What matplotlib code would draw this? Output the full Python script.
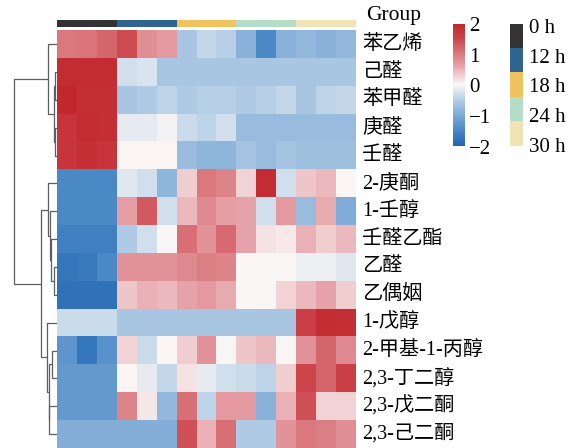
import matplotlib
matplotlib.use("Agg")
import matplotlib.pyplot as plt
from matplotlib.colors import LinearSegmentedColormap, ListedColormap
import numpy as np

plt.rcParams["font.family"] = ["Liberation Serif", "Noto Sans CJK SC"]
plt.rcParams["axes.unicode_minus"] = True

# compounds in dendrogram order
compounds = [
    "苯乙烯", "己醛", "苯甲醛", "庚醛", "壬醛",
    "2-庚酮", "1-壬醇", "壬醛乙酯", "乙醛", "乙偶姻",
    "1-戊醇", "2-甲基-1-丙醇", "2,3-丁二醇", "2,3-戊二酮", "2,3-己二酮",
]
groups = ["0 h", "12 h", "18 h", "24 h", "30 h"]
group_colors = ["#333333", "#2f6491", "#f0c35e", "#b5dcc6", "#f2e3b6"]
replicates = 3

# row z-scores, 3 samples per group
zscores = np.array([
    [1.0, 1.05, 1.2, 1.45, 0.8, 0.7, -0.6, -0.4, -0.5, -0.9, -1.5, -0.9, -0.8, -0.9, -0.8],
    [1.9, 1.9, 1.9, -0.3, -0.25, -0.6, -0.6, -0.6, -0.6, -0.6, -0.6, -0.6, -0.6, -0.6, -0.6],
    [2.0, 1.85, 1.85, -0.6, -0.55, -0.45, -0.55, -0.5, -0.5, -0.55, -0.5, -0.4, -0.6, -0.45, -0.4],
    [1.75, 1.9, 1.85, -0.15, -0.15, -0.05, -0.35, -0.45, -0.3, -0.75, -0.75, -0.75, -0.75, -0.75, -0.75],
    [1.75, 1.85, 1.75, 0.02, 0.02, 0.02, -0.75, -0.85, -0.85, -0.65, -0.75, -0.65, -0.7, -0.7, -0.7],
    [-1.5, -1.5, -1.5, -0.2, -0.3, -0.85, 0.3, 1.0, 0.9, 0.25, 1.9, -0.3, 0.35, 0.45, 0.02],
    [-1.5, -1.5, -1.5, 0.65, 1.3, -0.3, 0.45, 0.85, 0.65, 0.6, -0.3, 0.7, -0.75, 0.55, -1.0],
    [-1.6, -1.6, -1.6, -0.55, -0.3, -0.02, 1.1, 0.75, 1.15, 0.6, 0.15, 0.1, 0.5, 0.3, 0.45],
    [-1.75, -1.7, -1.5, 0.75, 0.75, 0.75, 0.85, 0.95, 0.9, 0.0, -0.02, 0.0, -0.1, -0.1, -0.2],
    [-1.8, -1.8, -1.8, 0.35, 0.5, 0.45, 0.6, 0.7, 0.55, 0.0, -0.03, 0.25, 0.45, 0.6, 0.3],
    [-0.35, -0.35, -0.35, -0.6, -0.6, -0.6, -0.6, -0.6, -0.6, -0.6, -0.6, -0.6, 1.6, 1.9, 1.85],
    [-1.3, -1.75, -1.35, 0.25, -0.35, 0.02, 0.3, 0.75, -0.03, 0.35, 0.45, -0.03, 0.75, 1.2, 0.85],
    [-1.25, -1.25, -1.25, 0.02, -0.15, -0.4, 0.15, -0.15, -0.3, -0.35, -0.45, 0.3, 1.5, 1.2, 1.6],
    [-1.25, -1.25, -1.25, 0.9, 0.12, -0.8, 1.1, -0.45, 0.7, 0.7, -0.9, 0.5, 1.4, 0.25, 0.25],
    [-0.95, -0.95, -0.95, -0.95, -0.95, -0.95, 1.4, 0.5, 1.1, -0.55, -0.55, 0.75, 1.0, 0.95, 0.8],
])

# row clustering: (left, right, height); ids >= 15 are earlier merges
merges = [
    (1, 2, 2.5), (3, 4, 2.5), (15, 16, 3.5), (0, 17, 9.3),
    (8, 9, 2.7), (7, 19, 6.0), (6, 20, 7.5), (5, 21, 9.3),
    (11, 12, 5.3), (13, 14, 8.0), (23, 24, 8.4), (10, 25, 10.3),
    (22, 26, 16.0), (18, 27, 43.0),
]

W, H = 578, 448
fig = plt.figure(figsize=(W / 100, H / 100), dpi=100)


def px_axes(x0, y0, x1, y1):
    """Axes from pixel box (top-left origin)."""
    return fig.add_axes([x0 / W, 1 - y1 / H, (x1 - x0) / W, (y1 - y0) / H])


# blue-white-red scale that leaves white quickly
vmin, vmax = -2, 2
stops = [
    (-2.0, "#2166b0"), (-1.5, "#4a88c6"), (-0.6, "#a9c7e3"),
    (0.0, "#fbf8f6"),
    (0.6, "#e6a4aa"), (1.5, "#cc464c"), (2.0, "#c1272d"),
]
cmap = LinearSegmentedColormap.from_list(
    "bwr_soft", [((v - vmin) / (vmax - vmin), c) for v, c in stops]
)
n_rows, n_cols = zscores.shape

# heatmap
ax = px_axes(57, 30.3, 356, 448)
ax.imshow(zscores, cmap=cmap, vmin=vmin, vmax=vmax, aspect="auto",
          interpolation="nearest", extent=(0, n_cols, n_rows, 0))
ax.set_axis_off()
for i, name in enumerate(compounds):
    ax.text(n_cols + 0.3, i + 0.5, name, va="center", ha="left",
            fontsize=14.5)

# group annotation bar
gax = px_axes(57, 20.3, 356, 27.3)
col_groups = np.repeat(np.arange(len(groups)), replicates)[None, :]
gax.imshow(col_groups, cmap=ListedColormap(group_colors), aspect="auto",
           interpolation="nearest", extent=(0, n_cols, 1, 0),
           vmin=-0.5, vmax=len(groups) - 0.5)
gax.set_axis_off()
gax.text(n_cols + 0.5, -0.7, "Group", va="center", ha="left", fontsize=15.5)

# row dendrogram
dax = px_axes(0, 30.3, 57, 448)
pos = {i: i + 0.5 for i in range(n_rows)}
hgt = {i: 0.0 for i in range(n_rows)}
for k, (a, b, h) in enumerate(merges):
    dax.plot([hgt[a], h, h, hgt[b]], [pos[a], pos[a], pos[b], pos[b]],
             color="#5e5e5e", lw=0.9, solid_capstyle="butt")
    pos[n_rows + k] = (pos[a] + pos[b]) / 2
    hgt[n_rows + k] = h
dax.set_xlim(57, 0)
dax.set_ylim(n_rows, 0)
dax.set_axis_off()

# colour scale
cax = px_axes(453, 24, 465, 146.5)
grad = np.linspace(vmax, vmin, 256)[:, None]
cax.imshow(grad, cmap=cmap, vmin=vmin, vmax=vmax, aspect="auto",
           extent=(0, 1, vmin, vmax))
cax.set_xticks([])
cax.yaxis.tick_right()
cax.set_yticks([2, 1, 0, -1, -2])
cax.set_yticklabels(["2", "1", "0", "\u22121", "\u22122"], fontsize=15)
cax.tick_params(axis="y", length=0, pad=3)
for s in cax.spines.values():
    s.set_visible(False)

# group legend
lax = px_axes(510, 24, 522.5, 146.5)
lax.imshow(np.arange(len(groups))[:, None], cmap=ListedColormap(group_colors),
           aspect="auto", interpolation="nearest",
           extent=(0, 1, len(groups), 0),
           vmin=-0.5, vmax=len(groups) - 0.5)
lax.set_xticks([])
lax.yaxis.tick_right()
lax.set_yticks(np.linspace(0.08, len(groups) - 0.08, len(groups)))
lax.set_yticklabels(groups, fontsize=15)
lax.tick_params(axis="y", length=0, pad=5)
for s in lax.spines.values():
    s.set_visible(False)

fig.savefig("out.png", dpi=100)
